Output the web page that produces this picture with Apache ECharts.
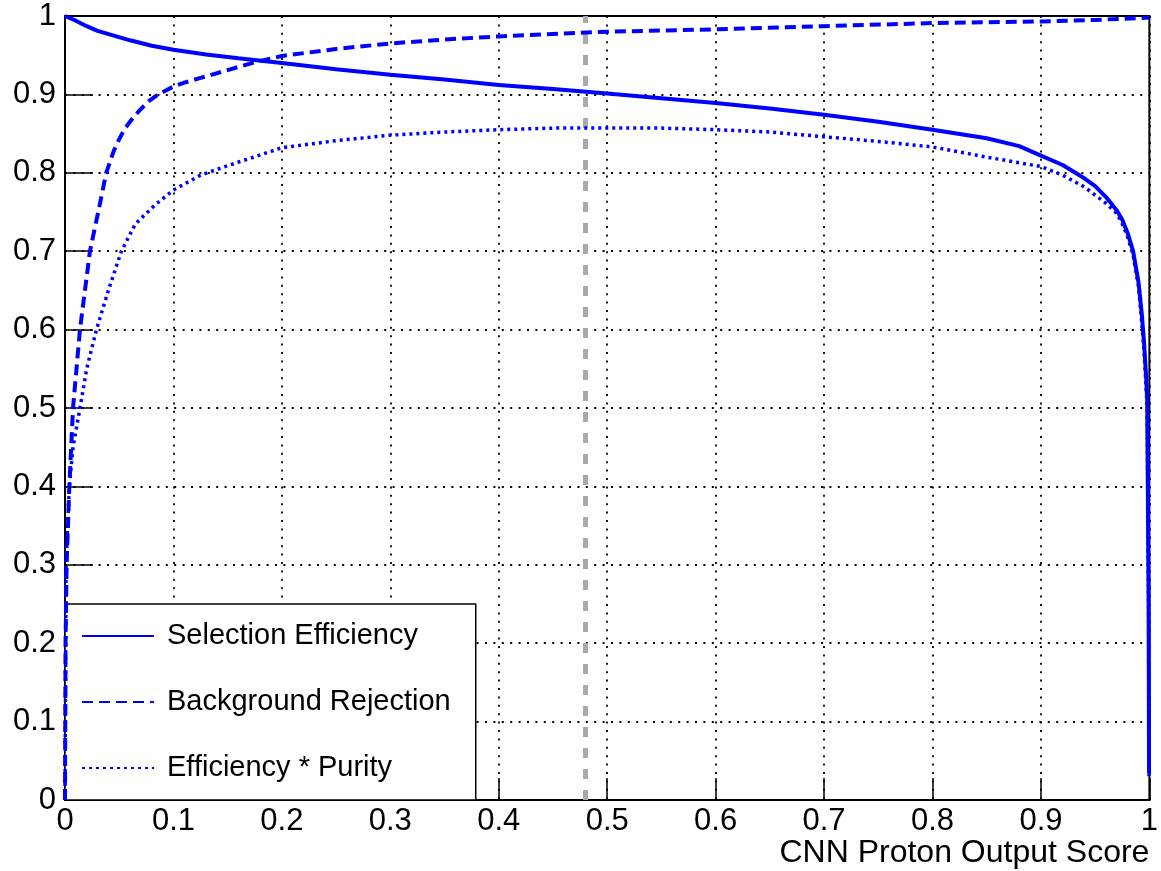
<!DOCTYPE html>
<html>
<head>
<meta charset="utf-8">
<script src="https://cdn.jsdelivr.net/npm/echarts@6/dist/echarts.min.js"></script>
<style>
html,body{margin:0;padding:0;background:#fff;}
#c{width:1161px;height:871px;}
</style>
</head>
<body>
<div id="c"></div>
<script>
// ---- data ----
const selX = [0,0.01,0.02,0.03,0.045,0.06,0.08,0.1,0.13,0.16,0.2,0.25,0.3,0.35,0.4,0.45,0.5,0.55,0.6,0.65,0.7,0.75,0.8,0.85,0.88,0.9,0.92,0.94,0.95,0.96,0.97,0.975,0.98,0.985,0.99,0.993,0.995,0.997,0.998,0.9993,0.9997];
const selY = [1.0,0.994,0.987,0.981,0.975,0.969,0.962,0.957,0.951,0.946,0.940,0.932,0.925,0.919,0.912,0.907,0.901,0.895,0.889,0.882,0.874,0.865,0.855,0.844,0.834,0.822,0.810,0.793,0.783,0.769,0.752,0.740,0.723,0.700,0.660,0.620,0.585,0.540,0.510,0.250,0.034];

const bkgX = [0,0.0005,0.0015,0.004,0.0074,0.0138,0.023,0.032,0.038,0.045,0.05,0.055,0.062,0.069,0.077,0.085,0.093,0.1,0.11,0.125,0.15,0.175,0.2,0.25,0.3,0.35,0.4,0.45,0.5,0.6,0.7,0.8,0.9,0.95,1.0];
const bkgY = [0.0,0.2,0.3,0.4,0.5,0.6,0.7,0.759,0.8,0.828,0.843,0.856,0.869,0.880,0.891,0.899,0.905,0.910,0.915,0.921,0.931,0.941,0.949,0.958,0.965,0.970,0.974,0.977,0.980,0.983,0.987,0.991,0.993,0.995,0.998];

const purX = [0,0.001,0.004,0.0074,0.0138,0.02,0.029,0.04,0.052,0.065,0.083,0.1,0.125,0.15,0.2,0.25,0.3,0.35,0.4,0.45,0.5,0.55,0.6,0.65,0.7,0.75,0.8,0.85,0.9,0.92,0.94,0.96,0.97,0.975,0.98,0.985,0.99,0.995,0.998,0.9993,0.9997];
const purY = [0.0,0.3,0.4,0.45,0.5,0.55,0.6,0.65,0.7,0.735,0.759,0.778,0.797,0.809,0.832,0.841,0.848,0.852,0.855,0.857,0.857,0.857,0.855,0.852,0.846,0.840,0.833,0.820,0.808,0.797,0.782,0.761,0.748,0.735,0.718,0.695,0.655,0.575,0.500,0.240,0.030];

const cutValue = 0.485;
const seriesNames = ['Selection Efficiency','Background Rejection','Efficiency * Purity'];
const xTitle = 'CNN Proton Output Score';

function zip(xs, ys){ return xs.map((x,i)=>[x, ys[i]]); }

const FONT = "'Liberation Sans', Arial, Helvetica, sans-serif";
const chart = echarts.init(document.getElementById('c'), null, {renderer:'canvas'});
chart.setOption({
  animation:false,
  backgroundColor:'#fff',
  textStyle:{fontFamily:FONT},
  grid:{left:65,right:9,top:16,bottom:71,show:true,borderColor:'#000',borderWidth:2,backgroundColor:'transparent'},
  xAxis:{
    type:'value',min:0,max:1,interval:0.1,
    name:xTitle,nameLocation:'end',nameGap:0,
    nameTextStyle:{color:'#000',fontSize:32,fontFamily:FONT,align:'right',verticalAlign:'top',padding:[37,0,0,0]},
    axisLine:{show:true,onZero:false,lineStyle:{color:'#000',width:2}},
    axisTick:{show:true,inside:true,length:22,lineStyle:{color:'#000',width:1.5}},
    axisLabel:{color:'#000',fontSize:31,fontFamily:FONT,margin:6},
    splitLine:{show:true,lineStyle:{color:'#000',width:1.8,type:[2,6.4]}}
  },
  yAxis:{
    type:'value',min:0,max:1,interval:0.1,
    axisLine:{show:true,onZero:false,lineStyle:{color:'#000',width:2}},
    axisTick:{show:true,inside:true,length:28,lineStyle:{color:'#000',width:1.5}},
    axisLabel:{color:'#000',fontSize:31,fontFamily:FONT,margin:9},
    splitLine:{show:true,lineStyle:{color:'#000',width:1.8,type:[2,6.4]}}
  },
  legend:{
    orient:'vertical',left:65,top:604,
    data:seriesNames,
    itemWidth:72,itemHeight:29,itemGap:37,
    padding:[17.5,25,17.5,16],
    backgroundColor:'#fff',borderColor:'#000',borderWidth:1.5,borderRadius:0,
    itemStyle:{opacity:0},
    textStyle:{color:'#000',fontSize:29,fontFamily:FONT,lineHeight:29,padding:[0,0,0,8]},
    selectedMode:false
  },
  series:[
    {name:seriesNames[0],type:'line',data:zip(selX,selY),symbol:'none',z:4,
     lineStyle:{color:'#0000ff',width:4},itemStyle:{color:'#0000ff'},
     markLine:{silent:true,symbol:'none',label:{show:false},animation:false,
       lineStyle:{color:'#aaaaaa',width:5,type:[10,11]},data:[{xAxis:cutValue}]}},
    {name:seriesNames[1],type:'line',data:zip(bkgX,bkgY),symbol:'none',z:5,
     lineStyle:{color:'#0000ff',width:4,type:[11,6]},itemStyle:{color:'#0000ff'}},
    {name:seriesNames[2],type:'line',data:zip(purX,purY),symbol:'none',z:5,
     lineStyle:{color:'#0000ff',width:3.5,type:[3,4]},itemStyle:{color:'#0000ff'}}
  ]
});
</script>
</body>
</html>
